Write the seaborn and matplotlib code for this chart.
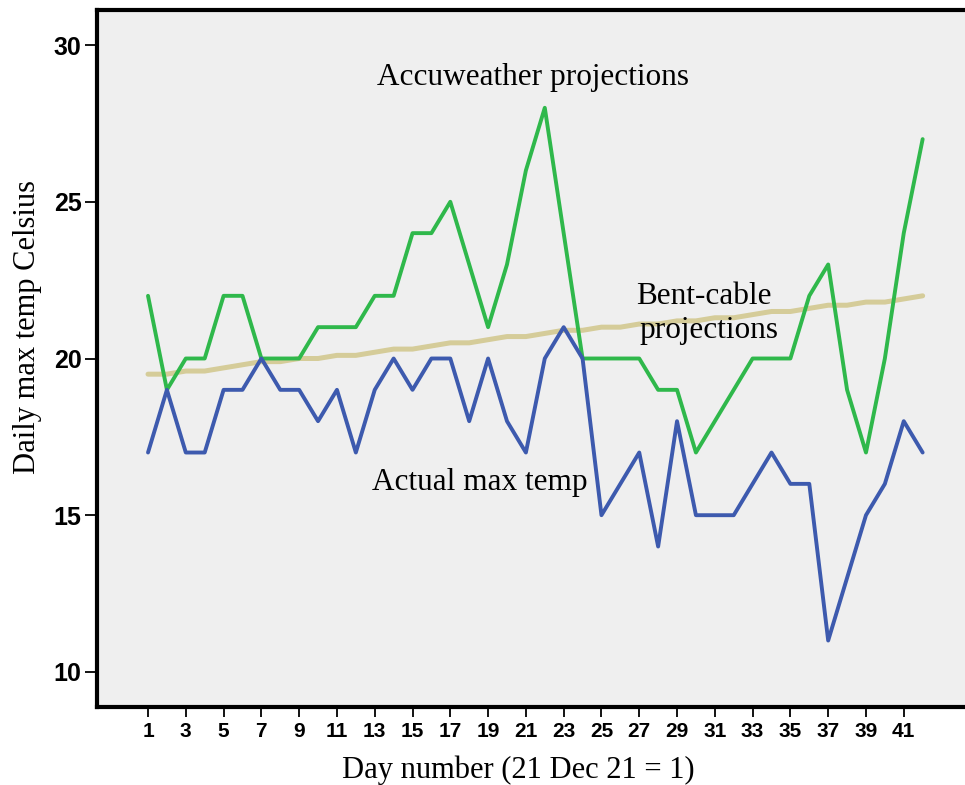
import pandas as pd
import seaborn as sns
from matplotlib import pyplot as plt

# Daily values (day 1 = 21 Dec 21)
days = list(range(1, 43))
actual = [17, 19, 17, 17, 19, 19, 20, 19, 19, 18, 19, 17, 19, 20, 19, 20, 20, 18, 20, 18, 17,
          20, 21, 20, 15, 16, 17, 14, 18, 15, 15, 15, 16, 17, 16, 16, 11, 13, 15, 16, 18, 17]
accuweather = [22, 19, 20, 20, 22, 22, 20, 20, 20, 21, 21, 21, 22, 22, 24, 24, 25, 23, 21, 23, 26,
               28, 24, 20, 20, 20, 20, 19, 19, 17, 18, 19, 20, 20, 20, 22, 23, 19, 17, 20, 24, 27]
bent_cable = [19.5, 19.5, 19.6, 19.6, 19.7, 19.8, 19.9, 19.9, 20.0, 20.0, 20.1, 20.1, 20.2, 20.3,
              20.3, 20.4, 20.5, 20.5, 20.6, 20.7, 20.7, 20.8, 20.9, 20.9, 21.0, 21.0, 21.1, 21.1,
              21.2, 21.2, 21.3, 21.3, 21.4, 21.5, 21.5, 21.6, 21.7, 21.7, 21.8, 21.8, 21.9, 22.0]
x_ticks = list(range(1, 42, 2))
y_ticks = [10, 15, 20, 25, 30]

df = pd.DataFrame({'day': days, 'actual': actual,
                   'accuweather': accuweather, 'bent_cable': bent_cable})

sns.set_style("white", {'axes.facecolor': '#efefef'})
plt.rcParams.update({'text.color': 'black', 'axes.labelcolor': 'black',
                     'xtick.color': 'black', 'ytick.color': 'black'})
serif = ['Liberation Serif', 'DejaVu Serif']
sans = ['Liberation Sans', 'DejaVu Sans']

fig = plt.figure(figsize=(9.65, 7.85), dpi=100)
W, H = 965, 785
ax = fig.add_axes([97 / W, (H - 707) / H, 888 / W, 697 / H])

sns.lineplot(data=df, x='day', y='bent_cable', ax=ax, color='#d5cc99', linewidth=3.6)
sns.lineplot(data=df, x='day', y='accuweather', ax=ax, color='#2fb84b', linewidth=2.8)
sns.lineplot(data=df, x='day', y='actual', ax=ax, color='#3d5aae', linewidth=2.8)

ax.set_xlim(-1.7, 45.3)
ax.set_ylim(8.88, 31.12)
ax.set_xticks(x_ticks)
ax.set_yticks(y_ticks)
ax.set_xticklabels([str(t) for t in x_ticks], fontfamily=sans, fontsize=15, fontweight='bold')
ax.set_yticklabels([str(t) for t in y_ticks], fontfamily=sans, fontsize=18, fontweight='bold')
ax.tick_params(axis='x', direction='out', length=7, width=1.3, pad=4)
ax.tick_params(axis='y', direction='out', length=9, width=1.3, pad=2)
ax.tick_params(bottom=True, left=True)

for side in ['left', 'bottom', 'top']:
    ax.spines[side].set_linewidth(3)
    ax.spines[side].set_color('black')
ax.spines['right'].set_visible(False)

ax.set_xlabel('Day number (21 Dec 21 = 1)', fontfamily=serif, fontsize=22, va='center')
ax.set_ylabel('Daily max temp Celsius', fontfamily=serif, fontsize=22, va='center')
ax.xaxis.set_label_coords((518 - 97) / 888, (707 - 770) / 697)
ax.yaxis.set_label_coords((28 - 97) / 888, (707 - 327) / 697)

ax.text(21.4, 28.96, 'Accuweather projections', fontfamily=serif, fontsize=22.5,
        ha='center', va='center')
ax.text(30.4, 21.98, 'Bent-cable', fontfamily=serif, fontsize=22.5, ha='center', va='center')
ax.text(30.67, 20.89, 'projections', fontfamily=serif, fontsize=22.5, ha='center', va='center')
ax.text(18.54, 16.04, 'Actual max temp', fontfamily=serif, fontsize=22.5, ha='center', va='center')

plt.savefig('out.png', dpi=100)
